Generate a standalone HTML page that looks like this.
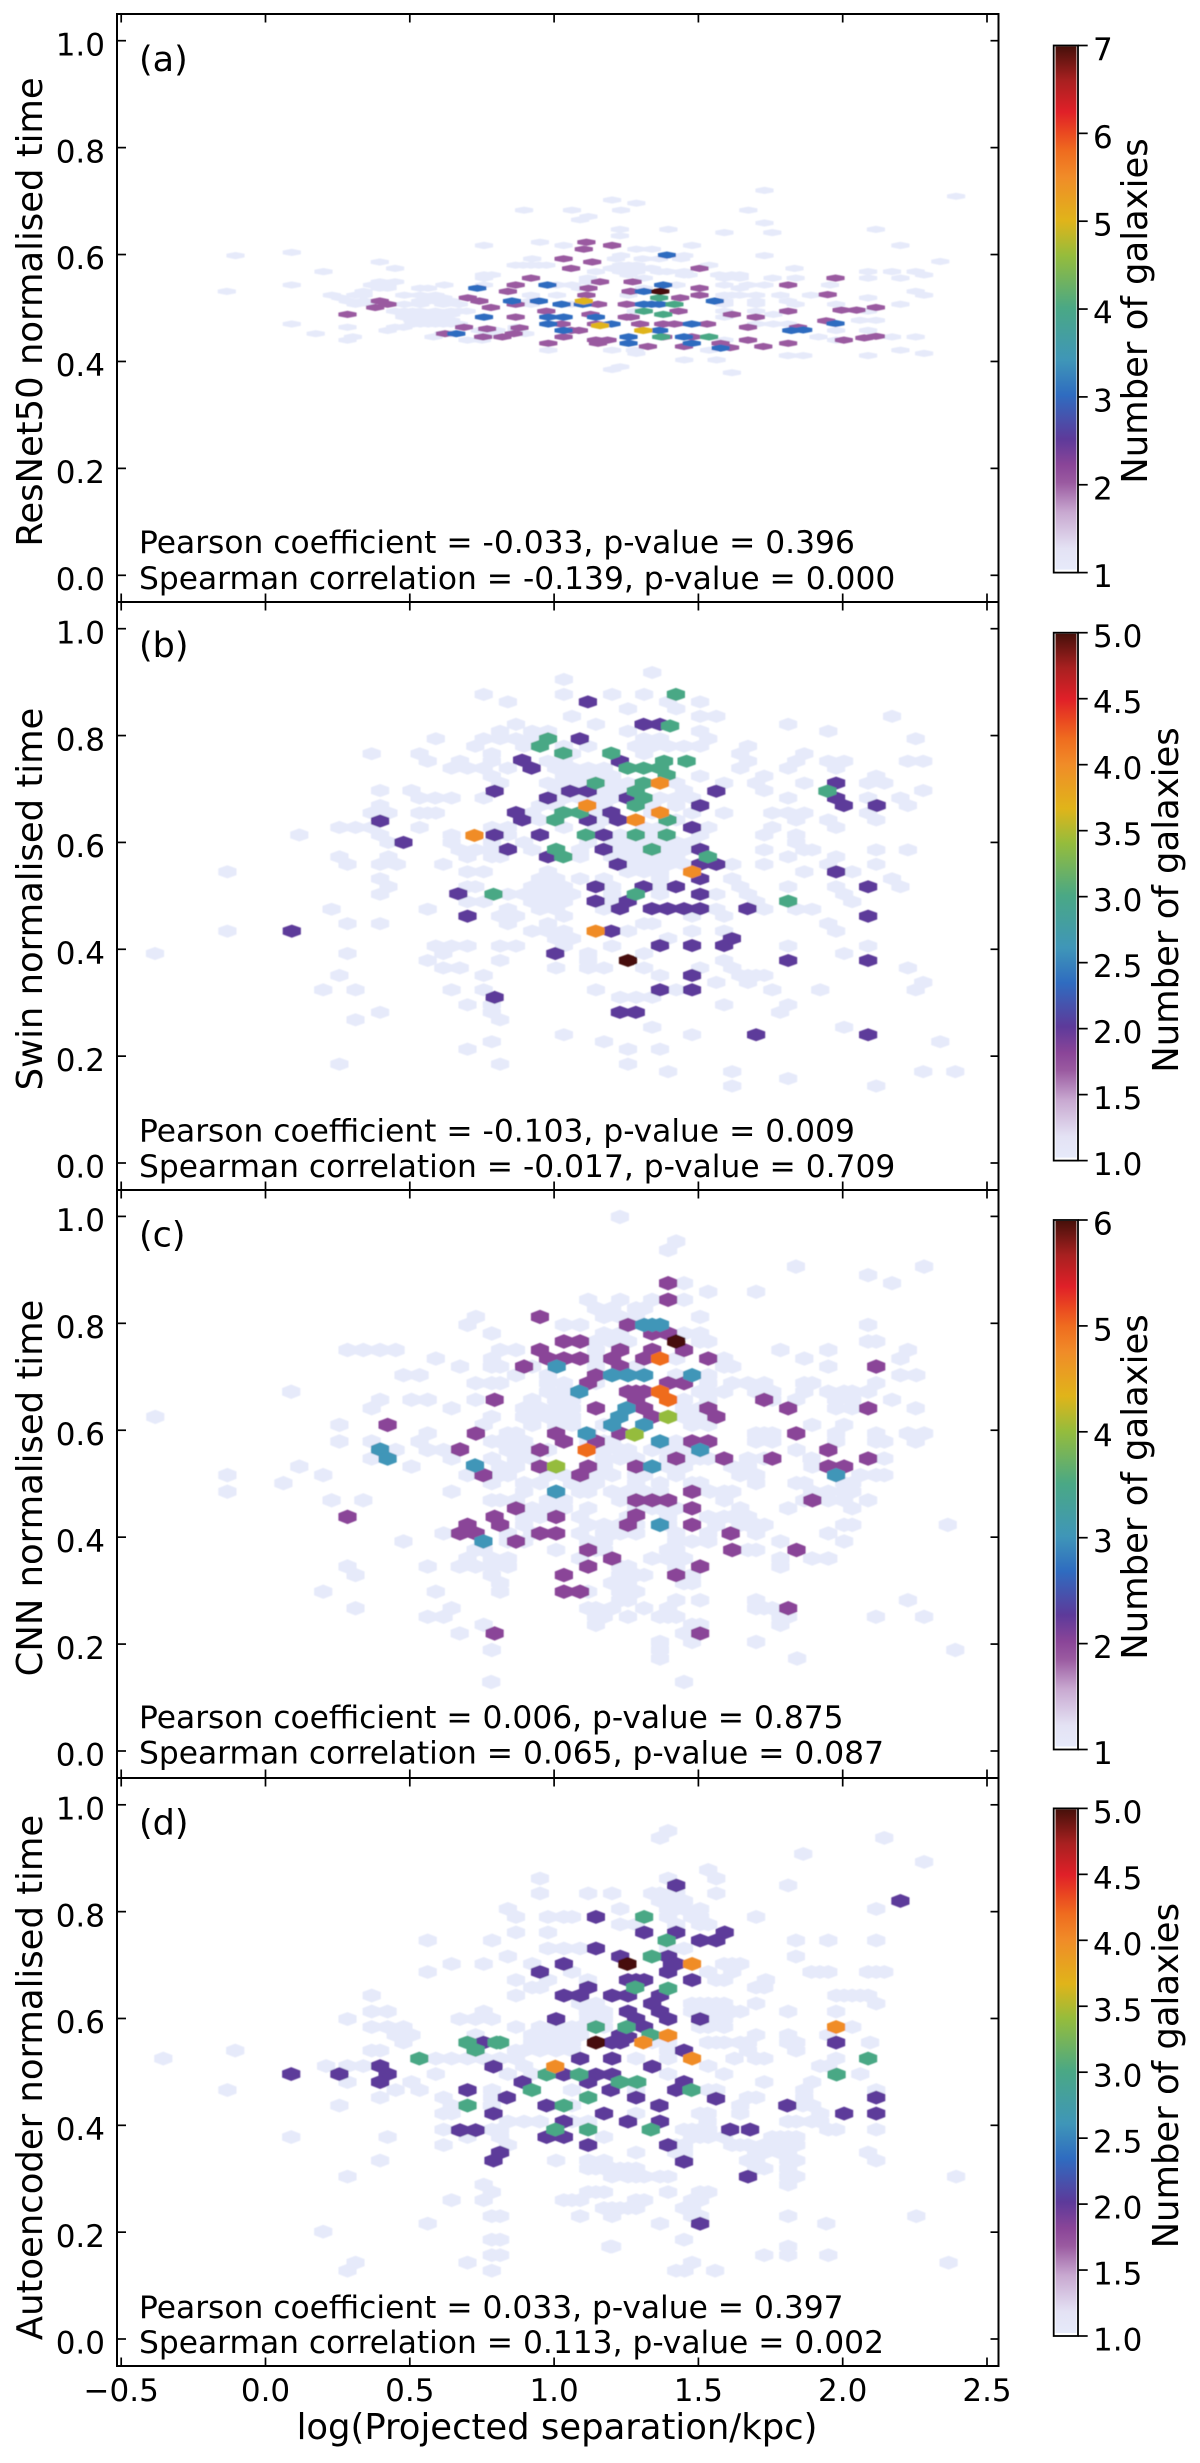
<!DOCTYPE html>
<html lang="en">
<head>
<meta charset="utf-8">
<title>Normalised time vs projected separation</title>
<style>
html,body{margin:0;padding:0;background:#fff;}
svg{display:block;}
text{font-family:"DejaVu Sans","Liberation Sans",sans-serif;fill:#000;}
</style>
</head>
<body>
<svg id="chart" xmlns="http://www.w3.org/2000/svg" width="1200" height="2463" viewBox="0 0 1200 2463">
<defs>
<filter id="soft" x="-5%" y="-5%" width="110%" height="110%"><feGaussianBlur stdDeviation="0.55"/></filter>
</defs>
<rect x="0" y="0" width="1200" height="2463" fill="#ffffff"/>
</svg>
<script>
/* ---------- axis tick values ---------- */
const sepTicks=[-0.5,0,0.5,1,1.5,2,2.5];
const sepTickLabels=["\u22120.5","0.0","0.5","1.0","1.5","2.0","2.5"];
const timeTicks=[0,0.2,0.4,0.6,0.8,1];
const timeTickLabels=["0.0","0.2","0.4","0.6","0.8","1.0"];
const cbarTicksA=[1,2,3,4,5,6,7];
const cbarLabelsA=["1","2","3","4","5","6","7"];
const cbarTicksB=[1,1.5,2,2.5,3,3.5,4,4.5,5];
const cbarLabelsB=["1.0","1.5","2.0","2.5","3.0","3.5","4.0","4.5","5.0"];
const cbarTicksC=[1,2,3,4,5,6];
const cbarLabelsC=["1","2","3","4","5","6"];
const cbarTicksD=[1,1.5,2,2.5,3,3.5,4,4.5,5];
const cbarLabelsD=["1.0","1.5","2.0","2.5","3.0","3.5","4.0","4.5","5.0"];

/* ---------- panel (a) ResNet50: cells with one galaxy, by row ---------- */
const aLightTimes=[.720,.709,.702,.696,.683,.671,.665,.659,.647,.641,.635,.623,.617,.610,.604,.598,.592,.587,.586,.580,.574,.568,.562,.556,.549,.543,.537,.531,.524,.519,.513,.507,.494,.488,.483,.477,.470,.464,.458,.452,.446,.440,.421,.415,.411,.403,.390,.385,.379];
const aLightSeps=[[1.729],[2.393],[1.201],[1.285],[1.232,.896,1.062,1.673],[1.119],[1.090],[1.729],[1.228,1.396,2.115],[1.590,1.756],[1.228],[.951],[.757,1.033,1.478,2.2],[1.285,1.339],[.091],[-.104,1.451,1.729,1.232],[.924,1.364,1.214,1.307,1.44],[2.338],[.396],[.867,.893,.920,.947,.973,1.232,1.258,1.285,1.537],[.449,1.200,1.285,1.339,1.833,1.254,1.333],[.201,1.145,1.232,1.285,1.364,1.391,1.451,2.088,2.171,2.253],[.757,.784,1.258,1.450,1.616,1.643,2.282,1.466,1.572],[1.117,1.311,1.643,1.590,1.757,1.837,2.088,2.2,.757],[.396,.449,1.117],[.091,.369,.423,.620,.757,1.010,1.062,1.424,1.590,1.671,1.729,1.956],[.396,.423,.536,.563,1.090,1.311,1.643],[-.134,.340,2.253],[.230,.311,.340,.481,.536,.589,.920,1.010,1.258,1.590,1.616,1.643,1.700,1.89,2.282,1.784],[.259,.563,.616,2.088],[.285,.340,.536,.563,.589,.643,.920,1.590,1.700,1.810],[.312,.370,.481,.536,.616,.670,.920,1.060,1.590,1.700,1.837,1.977,2.2],[.449,.481,.509,.536,.589,.643,.670,.697,1.283,1.590,1.700,1.810,2.088],[.481,.509,.536,.564,.589,.616,.643,1.760],[.481,.536,.564,.589,.616,1.590,1.700],[.509,.564,.589,.643,2.06,2.115],[.091,.512,.536,.564,.589,.616,.643,.670,1.700,1.760,1.810],[.284,.449,.478,.870],[.423,.743,.770,.800,.870,1.977,2.088],[.174,.616,.643,.770,.900],[.582,.303,1.916,2.171,2.253],[.284,.700,.750,1.590,1.977],[.980,1.201,1.537,1.28,2.2],[1.285,2.282],[1.81,1.863,2.088],[1.451,1.563],[1.229],[1.201],[1.616]];
/* cells with two galaxies */
const aSep2=[1.112,1.201,1.103,1.033,1.132,1.059,.920,1.504,.867,1.272,
1.159,1.119,.840,.701,.741,1.504,1.504,1.265,.867,1.152,
1.252,1.112,1.437,.781,.973,1.431,1.252,.284,.396,.423,
.380,.867,1.126,1.265,1.026,1.145,1.298,1.378,1.417,1.530,
.688,.768,.880,1.086,1.059,.622,.754,.821,.860,1.033,
.980,1.145,1.152,1.185,1.325,1.378,1.450,1.477,1.577,1.610,
1.616,1.699,1.672,1.672,1.725,1.811,1.811,1.811,
1.975,1.948,1.996,2.048,2.115,1.943,2.115,2.004,2.075,1.845];
const aTime2=[.623,.617,.610,.592,.586,.574,.556,.574,.543,.549,
.549,.537,.531,.519,.513,.537,.524,.531,.507,.507,
.507,.524,.519,.501,.494,.494,.483,.488,.513,.507,
.501,.483,.488,.483,.470,.470,.470,.470,.470,.470,
.464,.461,.463,.458,.458,.452,.446,.446,.452,.446,
.434,.440,.434,.440,.428,.446,.428,.446,.434,.426,
.488,.483,.464,.440,.428,.434,.494,.543,
.556,.525,.496,.496,.501,.476,.447,.440,.444,.464];
const aSep3=[1.391,.977,.734,1.378,1.311,.854,.947,1.026,1.099,1.557,
1.338,1.311,1.364,.757,.980,1.033,1.145,1.199,.980,1.477,
1.033,.661,1.258,1.258,1.364,1.477,1.450,1.577,1.822,1.863,1.975];
const aTime3=[.599,.543,.537,.543,.531,.513,.513,.507,.507,.513,
.507,.507,.507,.483,.483,.483,.483,.470,.470,.470,
.458,.452,.446,.434,.458,.434,.446,.425,.458,.459,.471];
const aSep4=[1.364,1.417,1.311,1.378,1.371,1.537];
const aTime4=[.519,.507,.494,.488,.446,.446];
const aSep5=[1.103,1.159,1.309];
const aTime5=[.513,.467,.458];
const aSep7=[1.368];
const aTime7=[.531];

/* ---------- panel (b) Swin ---------- */
const bLightTimes=[.918,.905,.877,.863,.850,.836,.821,.808,.794,.780,.766,.752,.739,.724,.711,.697,.683,.669,.655,.642,.628,.614,.600,.586,.573,.559,.545,.532,.517,.503,.489,.475,.462,.448,.434,.420,.406,.392,.379,.365,.351,.338,.324,.310,.296,.282,.268,.254,.240,.227,.213,.185,.171,.158,.144];
const bLightSeps=[[1.340],[1.034],[.756,1.034,1.201,1.312],[.840,1.395,1.506],[1.256,1.423],[1.062,1.506,1.562,2.171],[.868,1.145,1.811],[1.256,.813,.924,.979,1.506,1.950],[.590,.756,.813,.868,.924,1.312,1.367,1.534,2.253],[.727,.896,1.034,1.118,1.284,1.340,1.395,1.450,1.506,1.672],[.368,.534,.784,1.062,1.312,1.645,1.867],[.562,.674,.784,.979,1.034,1.672,1.839,1.950,2.005,2.226,2.279],[.645,.700,.756,.840,1.007,1.062,1.118,1.173,1.645,1.811,1.977],[.784,1.034,1.090,1.145,1.201,1.506,1.728,2.116],[.813,.979,1.034,1.090,1.201,1.256,1.423,1.589,1.700,1.867,2.088,2.144],[.397,.506,1.007,1.173,1.229,1.450,1.728,2.279],[.534,.588,.645,.756,1.034,1.090,1.145,1.201,1.367,1.423,1.478,1.811,2.088,2.200],[.397,.951,1.007,1.173,1.340,1.423,2.226],[.368,.426,.534,.562,.590,.924,1.145,1.340,1.478,1.589,1.756,1.811,1.867,2.088],[.951,1.173,1.423,1.839,1.950,2.116],[.256,.312,.368,.534,.785,.840,1.034,1.145,1.312,1.367,1.534,1.756,1.977],[.117,.397,.645,.840,1.229,1.340,1.506,1.728,1.839],[.426,.645,.785,.896,1.118,1.201,1.256,1.312,1.367,1.423,1.478,1.839],[.673,.728,.784,.924,1.090,1.229,1.284,1.395,1.450,1.728,1.867,1.894,2.116,2.226],[.256,.426,.700,.785,.813,1.090,1.201,1.256,1.312,1.367,1.423,1.811,1.977],[.284,.397,.455,.616,1.284,1.340,1.395,1.450,1.617,1.728,1.950,2.116],[-.132,.700,.756,.979,1.256,1.312,1.367,1.867,2.033],[.397,.951,1.007,1.090,1.173,1.367,1.617,2.171],[.426,.700,.727,.924,.979,1.034,1.201,1.367,1.645,1.811,1.977,2.200],[.397,.840,.896,.951,1.007,1.062,1.201,1.367,1.562,1.672,2.005],[.700,.756,.924,.979,1.034,1.201,1.700,2.033],[.229,.562,.840,.951,1.007,1.173,1.562,1.728,1.839,1.894],[.813,.868,1.034,1.478,1.589],[.284,.397,.840,.979,1.312,1.340,1.950],[-.132,.924,.979,1.034,1.256,1.478,1.589,1.977],[1.007,1.062,1.395],[.590,.645,.700,.813,.868,1.034,1.201,1.811,2.088],[-.383,.284,.616,1.118,1.312,2.005],[.562,.813,1.118,1.589],[.616,.673,1.007,1.118,1.173,1.312,1.506,1.617,2.226],[.756,.256,1.367,1.645,1.672,1.700,1.728],[1.562,1.672,2.279],[.200,.312,.645,.756,1.145,1.423,1.756,1.922,2.253],[1.229,1.284,1.340],[.700,.784,1.589,1.811],[.397,.784,1.783],[.312,.813],[1.340,2.005],[1.034,1.478],[.784,1.173,2.338],[.700,1.256,1.367],[.256,.813,1.256],[1.395,1.617,2.279,2.39],[1.811],[1.617,2.116]];
const bSep2=[1.117,1.310,1.367,1.089,1.228,.889,.922,.979,.794,1.055,
1.117,1.255,1.562,1.506,.868,.889,1.198,1.221,1.117,1.478,
1.977,1.977,2.004,2.118,.794,.951,1.172,.840,.979,1.172,
1.506,1.221,1.506,1.562,1.977,1.506,1.144,1.310,1.422,1.506,
2.088,1.144,1.255,1.228,1.339,1.393,1.450,1.506,1.670,2.088,
1.198,1.367,1.478,1.589,1.616,1.004,1.811,2.088,1.478,1.367,
1.478,.794,1.228,1.283,1.700,2.088,.397,.478,.668,.700,.091];
const bTime2=[.863,.821,.821,.794,.752,.754,.739,.683,.696,.696,
.696,.683,.696,.669,.656,.642,.656,.642,.642,.628,
.711,.683,.669,.669,.614,.614,.614,.587,.573,.587,
.587,.559,.559,.559,.545,.532,.517,.517,.517,.503,
.517,.490,.490,.476,.476,.476,.476,.476,.476,.462,
.434,.407,.407,.407,.420,.392,.379,.379,.351,.324,
.324,.310,.282,.282,.240,.240,.640,.600,.504,.462,.434];
const bSep3=[1.422,1.402,.979,.951,1.032,1.198,1.255,1.310,1.367,1.381,
1.459,1.390,1.310,1.283,1.144,1.310,1.283,1.032,1.089,1.004,
1.393,1.110,1.283,1.390,1.339,1.007,1.032,1.533,1.947,1.283,
1.811,.790];
const bTime3=[.877,.818,.794,.780,.767,.767,.739,.739,.739,.752,
.752,.726,.711,.696,.711,.683,.669,.656,.656,.642,
.642,.614,.614,.614,.587,.587,.573,.573,.696,.503,
.490,.503];
const bSep4=[1.367,1.115,1.367,1.283,1.478,1.144,.724];
const bTime4=[.711,.669,.656,.642,.545,.434,.613];
const bSep5=[1.256];
const bTime5=[.379];

/* ---------- panel (c) CNN ---------- */
const cLightTimes=[.999,.953,.937,.906,.890,.875,.859,.844,.828,.812,.797,.781,.766,.750,.734,.719,.703,.688,.672,.657,.641,.625,.610,.594,.579,.563,.547,.532,.516,.501,.485,.469,.454,.438,.423,.407,.392,.376,.360,.345,.329,.314,.298,.282,.267,.251,.236,.220,.204,.189,.173,.129];
const cLightSeps=[[1.228],[1.423],[1.395],[1.838,2.282],[2.088],[1.450,2.171],[1.534,1.700],[1.118,1.229,1.340,1.450],[1.145,1.201,1.284,1.312],[.729,1.173,1.229,1.284,1.506],[.700,1.034,1.090,2.088],[.784,1.173,1.229,1.450,1.506],[1.145,1.201,1.256,1.506,1.534,2.088,2.116],[.284,.339,.397,.451,.813,.868,1.145,1.784,1.950,2.226],[.590,.785,1.145,1.423,1.589,1.867,2.2],[.674,.784,.813,.924,1.145,1.284,1.589,1.617,1.950],[.478,.534,.868,.979,1.145,1.423,1.534,2.2,2.255],[.728,.784,.813,.979,1.034,1.145,1.534,1.617,1.672,1.728,1.867,1.894,2.116],[.089,.979,1.034,1.506,1.534,1.589,1.700,1.756,1.867,1.950,2.005,2.033,2.088],[.397,.506,.562,.728,.924,1.007,1.034,1.062,1.450,1.534,1.756,1.839,1.977,2.033,2.171],[.368,.645,.896,.951,1.007,1.034,1.062,1.450,1.506,1.977,2.033,2.253],[-.382,.784,.896,.924,.979,1.034,1.062,1.450,1.478,1.534],[.256,.756,.924,1.007,1.062,1.173,1.478,1.534,1.894,2.005],[.562,.840,.868,1.118,1.700,1.728,1.756,1.977,2.116,2.226,2.282],[.256,.368,.534,.785,.813,.868,.896,1.118,1.173,1.201,1.423,1.700,1.756,1.977,2.116,2.144,2.253],[.451,.562,.617,.840,.896,.924,.979,1.173,1.229,1.256,1.340,1.395,1.450,1.840],[.368,.645,.785,.868,.924,1.173,1.229,1.284,1.395,1.478,1.506,1.534,1.672,1.728,1.892,2.144],[.117,.506,.813,.868,1.117,1.173,1.395,1.450,1.617,1.672,1.895],[-.132,.200,.700,.813,.840,.979,1.034,1.145,1.201,1.284,1.312,1.423,1.645,1.700,2.061,2.116,2.144],[.062,.784,.896,.951,1.062,1.090,1.145,1.284,1.367,1.478,1.506,1.700,1.840,1.867,2.005,2.033],[-.132,.645,.896,1.090,1.118,1.201,1.256,1.312,1.367,1.540,1.590,1.617,1.894,1.950,2.005,2.033],[.229,.339,.784,.813,.868,.979,1.034,1.229,1.590,1.867,1.950,2.005,2.088],[.924,.979,1.034,1.118,1.284,1.340,1.367,1.423,1.645,1.811,2.033],[.896,.951,1.090,1.256,1.395,1.534,1.589,1.617,1.672],[.896,1.118,1.173,1.229,1.284,1.395,1.562,1.645,1.672,1.700,1.729,2.005,2.033,2.364],[.617,.840,.924,1.090,1.173,1.201,1.229,1.284,1.423,1.534,1.700,1.950],[.478,.840,.896,1.118,1.173,1.423,1.478,1.534,1.784,2.005],[.728,.756,1.007,1.145,1.173,1.395,1.423,1.672,1.700],[.700,.784,.840,1.090,1.340,1.395,1.450,1.784,1.894,1.950],[.284,.562,.673,.728,.785,.840,1.229,1.256,1.423,1.784],[.312,.784,1.229,1.284,1.312,1.478],[.813,1.201,1.256,1.450,1.478],[.200,.590,.813,1.118,1.229,1.284],[1.229,1.256,1.423,1.506,1.700,2.226],[.312,.645,1.118,1.145,1.201,1.312,1.395,1.700,1.728,1.756],[.562,.617,1.145,1.172,1.256,1.367,1.395,1.423,1.784,1.811,2.115,2.282],[.756,1.145,1.478,1.506,1.784],[.673,1.450],[1.367,1.478,1.700],[.784,1.367,2.39],[1.367,1.842],[.782,1.45]];
const cSep2=[.951,1.256,1.340,1.395,1.034,1.090,.951,.979,1.034,1.090,
1.229,1.201,1.229,1.312,1.340,1.450,1.534,.896,1.145,1.118,
1.395,1.395,1.395,1.450,1.284,1.256,1.312,1.284,1.312,1.340,
1.728,1.811,1.534,1.562,1.145,2.088,2.116,1.229,1.007,1.034,
1.145,1.478,1.534,1.839,.951,.951,1.090,1.118,1.423,1.589,
1.756,1.950,2.088,1.950,2.005,1.284,1.478,1.478,1.478,1.284,
1.340,1.395,1.895,.868,.794,.813,1.007,.951,1.007,1.284,
1.256,.868,1.118,1.201,1.118,1.034,1.034,1.090,1.423,1.506,
1.612,1.617,1.840,1.811,1.506,.794,.794,.423,.729,.674,.284,.700,.674,.728,.755];
const cTime2=[.812,.797,.781,.781,.766,.766,.750,.734,.734,.734,
.750,.734,.719,.734,.750,.750,.734,.719,.703,.688,
.875,.844,.688,.688,.672,.672,.672,.657,.641,.625,
.657,.641,.641,.625,.641,.641,.719,.594,.594,.579,
.579,.579,.579,.594,.563,.532,.516,.532,.547,.547,
.547,.563,.547,.532,.532,.532,.485,.454,.423,.469,
.469,.469,.469,.454,.438,.423,.438,.407,.407,.441,
.423,.392,.376,.360,.345,.329,.298,.298,.329,.345,
.407,.376,.376,.267,.220,.220,.657,.610,.594,.564,.438,.423,.407,.407,.516];
const cSep3=[1.312,1.367,1.340,1.009,1.201,1.256,1.312,1.478,1.087,1.251,
1.226,1.201,1.312,1.113,1.367,1.506,1.340,1.977,1.007,1.367,
.755,.397,.423,.726];
const cTime3=[.797,.797,.797,.719,.703,.703,.703,.703,.672,.641,
.625,.610,.610,.594,.579,.563,.532,.516,.485,.423,
.392,.564,.547,.534];
const cSep4=[1.395,1.279,1.007];
const cTime4=[.625,.592,.532];
const cSep5=[1.367,1.367,1.395,1.113];
const cTime5=[.734,.672,.657,.563];
const cSep6=[1.423];
const cTime6=[.766];

/* ---------- panel (d) Autoencoder ---------- */
const dLightTimes=[.951,.938,.908,.893,.878,.862,.849,.834,.820,.805,.790,.776,.761,.746,.731,.716,.702,.687,.672,.658,.643,.628,.613,.599,.584,.569,.555,.540,.525,.511,.496,.481,.466,.452,.437,.422,.407,.392,.378,.363,.349,.334,.319,.304,.289,.275,.260,.245,.230,.216,.201,.186,.173,.157,.143,.128];
const dLightSeps=[[1.395],[1.367,2.144],[1.863],[2.282],[1.534],[.951,1.395,1.562],[1.811],[.951,1.118,1.201,1.340,1.367,1.423,1.562],[1.367,1.395,1.423,1.450],[.840,1.229,1.395,1.423,1.450,1.506,2.116],[.868,.979,1.034,1.062,1.395,1.478,1.506,1.700],[1.229,1.284,1.423,1.506,1.534],[.868,.979],[.562,.785,1.838,1.950,2.116],[.979,1.034,1.090,1.395,1.450],[.840,1.838],[.645,.756,.924,1.589,1.617,1.645],[.562,1.062,1.534,1.617,1.892,1.921,1.950,2.088,2.116,2.144],[.868,.979,1.117,1.562,1.589,1.734],[.924,.951,1.700,1.728],[.368,.868,1.978,2.005,2.033,2.061,2.088],[1.090,1.145,1.478,1.506,1.534,1.562,1.589,1.700,2.116],[.368,.423,.756,1.117,1.173,1.478,1.506,1.534,1.562,1.589,1.617,1.645,1.811,1.977],[.284,.673,.728,.784,1.118,1.173,1.534,1.589],[.368,.423,.478,.868,.951,1.007,1.062,1.090,1.173,1.506,1.534,1.589,2.033],[.451,.506,.728,.924,.951,1.007,1.062,1.090,1.700,1.811,1.950],[.478,.924,.979,1.034,1.062,1.340,1.395,1.534,1.562,1.589,1.645,1.672,1.811,1.839,2.095],[-.105,.368,.397,.868,.896,.951,1.007,1.062,1.395,1.672,1.839],[-.354,.590,.645,.700,.756,.813,.868,1.284,1.395,1.625,1.700,1.728,1.977],[.210,.284,.339,.896,1.534,1.922,1.950],[.590,.840,.924,1.395,1.589,2.061],[.284,.506,1.728,1.894],[-.132,.451,.534,.785,1.062,1.284,1.534,1.562,1.867,2.116],[.397,.617,.785,1.672,1.700,1.867],[.256,.645,.784,.979,1.062,1.645,1.862,1.894],[.617,.645,1.284,1.506,1.532,1.645,1.922],[.840,.896,.950,1.062,1.118,1.532,1.811,1.839,1.894,1.922],[.617,.785,.813,1.450,1.478,1.506,1.534,1.950,1.977,2.116],[.089,.423,.700,.813,1.173,1.478,1.506,1.534,1.589,1.756,1.784,1.811,1.839],[.617,.840,1.423,1.450,1.617,1.645,1.672,1.728,1.756,1.784,1.811,1.839],[1.284,1.423,1.450,1.700,1.728,1.784,1.811,2.088],[.397,1.007,1.118,1.173,1.450,1.672,1.700,1.811,1.839,2.116],[1.118,1.145,1.173,1.201,1.229,1.256,1.284,1.700,1.728,1.811],[.284,1.201,1.256,1.284,1.312,1.367,1.395,1.811,1.839,2.393],[.756,1.811],[.784,1.118,1.145,1.173,1.395,1.506,1.534],[.645,.756,1.034,1.062,1.090,1.284,1.312,1.478,1.506],[1.173,1.201,1.229,1.256,1.284,1.450,1.478],[.784,.813,1.090,1.201,1.478,1.506,1.811,2.255],[.562,1.367,1.943],[.200],[.784,.813,1.450],[1.195,1.201,1.811],[.784,.813,1.728,1.811,1.950],[.312,.700,1.478,2.367],[.284,.784,1.423,1.558,1.452]];
const dSep2=[1.423,1.145,1.312,1.423,1.506,1.562,1.591,1.145,1.229,1.395,
1.408,1.423,1.395,1.034,.951,1.256,1.312,1.478,1.284,1.118,
1.034,1.090,1.201,1.256,1.367,1.340,1.256,1.367,1.395,1.284,
1.312,1.007,1.506,1.229,1.229,1.201,1.256,1.201,1.090,1.450,
1.977,1.340,.790,1.034,1.145,1.201,1.118,.891,1.196,1.450,
1.423,.836,1.284,1.561,.974,1.365,1.808,2.116,.790,1.173,
2.005,2.116,1.034,1.256,1.367,.974,1.034,1.610,1.679,1.118,
1.395,.813,.790,1.450,1.672,1.506,.089,.256,.397,.423,
.397,.755,.700,.674,.728,2.200];
const dTime2=[.849,.790,.761,.761,.746,.746,.761,.731,.716,.716,
.702,.702,.687,.702,.687,.672,.672,.672,.672,.658,
.643,.643,.643,.643,.643,.628,.613,.613,.599,.599,
.584,.599,.599,.569,.555,.555,.565,.525,.525,.540,
.555,.510,.510,.495,.495,.495,.481,.481,.466,.481,
.466,.452,.452,.450,.437,.437,.437,.452,.422,.422,
.422,.422,.407,.407,.407,.378,.378,.392,.392,.363,
.363,.349,.334,.332,.304,.216,.496,.496,.511,.496,
.481,.555,.466,.391,.391,.820];
const dSep3=[1.312,1.390,1.339,1.281,1.395,1.145,1.251,1.334,.813,.974,
1.087,1.228,1.288,.923,1.476,1.034,1.118,1.004,1.118,1.335,
2.088,1.979,.533,.700,.728,.801,.700];
const dTime3=[.790,.746,.716,.658,.656,.584,.584,.569,.555,.495,
.495,.481,.481,.466,.466,.437,.452,.392,.392,.392,
.525,.495,.525,.555,.541,.555,.437];
const dSep4=[1.478,1.977,1.309,1.395,1.478,1.004];
const dTime4=[.702,.584,.555,.568,.525,.510];
const dSep5=[1.254,1.145];
const dTime5=[.702,.555];

/* ---------- which counts each panel holds ---------- */
const aLevels=[2,3,4,5,7];
const bLevels=[2,3,4,5];
const cLevels=[2,3,4,5,6];
const dLevels=[2,3,4,5];

/* ---------- axis functions and layout ---------- */
const NS='http://www.w3.org/2000/svg';
const root=document.getElementById('chart');
const sepX=v=>265.5+288.6*v;
const axisLeft=117, axisRight=998.5;
const hexSepWidth=0.063;
const cmap=[[0,'#e6eafa'],[0.04,'#e4e2f4'],[0.11,'#c8a8d0'],[1/6,'#9a5aa0'],[0.2,'#8a4598'],[0.25,'#5d3a9a'],[1/3,'#2f6cc0'],[0.4,'#3f96b8'],[0.5,'#4aa885'],[0.6,'#95bc3c'],[2/3,'#e0b41a'],[0.75,'#f08c28'],[0.8,'#ef6c1f'],[5/6,'#ea4a20'],[0.875,'#e02028'],[0.935,'#a82020'],[1,'#47100a']];

function hexToRgb(h){return [1,3,5].map(i=>parseInt(h.substr(i,2),16));}
function colourFor(f){
  for(let i=1;i<cmap.length;i++){
    if(f<=cmap[i][0]){
      const t=(f-cmap[i-1][0])/(cmap[i][0]-cmap[i-1][0]);
      const a=hexToRgb(cmap[i-1][1]),b=hexToRgb(cmap[i][1]);
      return 'rgb('+a.map((c,k)=>Math.round(c+(b[k]-c)*t)).join(',')+')';
    }
  }
  return cmap[cmap.length-1][1];
}
function node(tag,attrs,parent){
  const el=document.createElementNS(NS,tag);
  for(const k in attrs){el.setAttribute(k,attrs[k]);}
  (parent||root).appendChild(el);
  return el;
}
function line(x1,y1,x2,y2,w,parent){
  return node('line',{x1:x1,y1:y1,x2:x2,y2:y2,stroke:'#000','stroke-width':w},parent);
}

const panels=[
 {id:'a',top:14,bottom:602,y0:575.3,y1:40.7,hexTime:.0135,lightTimes:aLightTimes,lightSeps:aLightSeps,levels:aLevels,seps:[aSep2,aSep3,aSep4,aSep5,aSep7],times:[aTime2,aTime3,aTime4,aTime5,aTime7],
  min:1,max:7,cbTop:45.5,cbBot:572.6,cbTicks:cbarTicksA,cbLabels:cbarLabelsA,cbLabelX:1147,cbLabelY:311,
  ylabel:'ResNet50 normalised time',ylabelY:312,tag:'(a)',tagY:71,
  line1:'Pearson coefficient = -0.033, p-value = 0.396',line2:'Spearman correlation = -0.139, p-value = 0.000',y1Text:553,y2Text:589},
 {id:'b',top:602,bottom:1190,y0:1163,y1:628.7,hexTime:.0245,lightTimes:bLightTimes,lightSeps:bLightSeps,levels:bLevels,seps:[bSep2,bSep3,bSep4,bSep5],times:[bTime2,bTime3,bTime4,bTime5],
  min:1,max:5,cbTop:632.7,cbBot:1160.6,cbTicks:cbarTicksB,cbLabels:cbarLabelsB,cbLabelX:1178,cbLabelY:900,
  ylabel:'Swin normalised time',ylabelY:899,tag:'(b)',tagY:657,
  line1:'Pearson coefficient = -0.103, p-value = 0.009',line2:'Spearman correlation = -0.017, p-value = 0.709',y1Text:1141.6,y2Text:1177.2},
 {id:'c',top:1190,bottom:1778,y0:1751,y1:1216.4,hexTime:.027,lightTimes:cLightTimes,lightSeps:cLightSeps,levels:cLevels,seps:[cSep2,cSep3,cSep4,cSep5,cSep6],times:[cTime2,cTime3,cTime4,cTime5,cTime6],
  min:1,max:6,cbTop:1220,cbBot:1749.5,cbTicks:cbarTicksC,cbLabels:cbarLabelsC,cbLabelX:1147,cbLabelY:1487,
  ylabel:'CNN normalised time',ylabelY:1488,tag:'(c)',tagY:1246.5,
  line1:'Pearson coefficient = 0.006, p-value = 0.875',line2:'Spearman correlation = 0.065, p-value = 0.087',y1Text:1728,y2Text:1763.6},
 {id:'d',top:1778,bottom:2366,y0:2339,y1:1804.8,hexTime:.026,lightTimes:dLightTimes,lightSeps:dLightSeps,levels:dLevels,seps:[dSep2,dSep3,dSep4,dSep5],times:[dTime2,dTime3,dTime4,dTime5],
  min:1,max:5,cbTop:1808.4,cbBot:2336,cbTicks:cbarTicksD,cbLabels:cbarLabelsD,cbLabelX:1178,cbLabelY:2075.7,
  ylabel:'Autoencoder normalised time',ylabelY:2077.5,tag:'(d)',tagY:1834.5,
  line1:'Pearson coefficient = 0.033, p-value = 0.397',line2:'Spearman correlation = 0.113, p-value = 0.002',y1Text:2317.8,y2Text:2352.8}
];

function drawHex(sep,time,count,p,yOf,parent){
  const cx=sepX(sep), cy=yOf(time);
  const hw=(sepX(sep+hexSepWidth/2)-cx);
  const hh=(cy-yOf(time+p.hexTime/2));
  const pts=[[0,-hh],[hw,-hh/2],[hw,hh/2],[0,hh],[-hw,hh/2],[-hw,-hh/2]]
    .map(q=>(cx+q[0]).toFixed(1)+','+(cy+q[1]).toFixed(1)).join(' ');
  const el=node('polygon',{points:pts,fill:colourFor((count-p.min)/(p.max-p.min))},parent);
  
  
}

panels.forEach(function(p){
  const yOf=v=>p.y0-(p.y0-p.y1)*v;
  const g=node('g',{});
  
  

  /* hexbin marks */
  const cells=node('g',{filter:'url(#soft)'},g);
  
  
  p.lightTimes.forEach(function(t,i){
    (p.lightSeps[i]||[]).forEach(function(s){drawHex(s,t,1,p,yOf,cells);});
  });
  p.levels.forEach(function(count,k){
    const sp=p.seps[k], tm=p.times[k];
    const n=Math.min(sp.length,tm.length);
    for(let i=0;i<n;i++){drawHex(sp[i],tm[i],count,p,yOf,cells);}
  });

  /* spines */
  const frame=node('rect',{x:axisLeft,y:p.top,width:axisRight-axisLeft,height:p.bottom-p.top,fill:'none',stroke:'#000','stroke-width':2},g);
  
  

  /* x ticks, top and bottom, inward */
  sepTicks.forEach(function(v){
    const x=sepX(v);
    const t1=line(x,p.bottom,x,p.bottom-8.5,1.7,g);
    
    
    const t2=line(x,p.top,x,p.top+8.5,1.7,g);
    
    
  });

  /* y ticks, left and right, inward, with labels */
  timeTicks.forEach(function(v,i){
    const y=yOf(v);
    const t1=line(axisLeft,y,axisLeft+9,y,1.7,g);
    
    
    const t2=line(axisRight,y,axisRight-8,y,1.7,g);
    
    
    const lab=node('text',{x:105,y:y+14.7,'text-anchor':'end','font-size':31},g);
    lab.textContent=timeTickLabels[i];
    
    
  });

  /* y axis title */
  const yl=node('text',{transform:'translate(42,'+p.ylabelY+') rotate(-90)','text-anchor':'middle','font-size':35.4},g);
  yl.textContent=p.ylabel;
  
  

  /* panel tag */
  const tag=node('text',{x:139,y:p.tagY,'font-size':35},g);
  tag.textContent=p.tag;
  
  

  /* statistics */
  const s1=node('text',{x:139,y:p.y1Text,'font-size':31.3},g);
  s1.textContent=p.line1;
  
  
  const s2=node('text',{x:139,y:p.y2Text,'font-size':31.3},g);
  s2.textContent=p.line2;
  
  

  /* colour bar */
  const defs=root.querySelector('defs');
  const grad=node('linearGradient',{id:'cbar-'+p.id,x1:0,y1:1,x2:0,y2:0},defs);
  cmap.forEach(function(c){
    node('stop',{offset:c[0],'stop-color':c[1]},grad);
  });
  const cbg=node('g',{},g);
  
  
  const fill=node('rect',{x:1055.5,y:p.cbTop+1,width:21,height:p.cbBot-p.cbTop-4,fill:'url(#cbar-'+p.id+')'},cbg);
  
  
  const out=node('rect',{x:1053.7,y:p.cbTop,width:24.3,height:p.cbBot-p.cbTop,fill:'none',stroke:'#000','stroke-width':1.8},cbg);
  
  
  const cbY=v=>p.cbBot-(p.cbBot-p.cbTop)*(v-p.min)/(p.max-p.min);
  p.cbTicks.forEach(function(v,i){
    const y=cbY(v);
    const t=line(1078,y,1087.7,y,1.7,cbg);
    
    
    const lab=node('text',{x:1093,y:y+14.5,'font-size':31},cbg);
    lab.textContent=p.cbLabels[i];
    
    
  });
  const cl=node('text',{transform:'translate('+p.cbLabelX+','+p.cbLabelY+') rotate(-90)','text-anchor':'middle','font-size':35.4},cbg);
  cl.textContent='Number of galaxies';
  
  
});

/* x tick labels and title on the bottom panel only */
sepTicks.forEach(function(v,i){
  const lab=node('text',{x:sepX(v),y:2401,'text-anchor':'middle','font-size':31});
  lab.textContent=sepTickLabels[i];
  
  
});
const xt=node('text',{x:557,y:2439,'text-anchor':'middle','font-size':35.4});
xt.textContent='log(Projected separation/kpc)';


</script>
</body>
</html>
